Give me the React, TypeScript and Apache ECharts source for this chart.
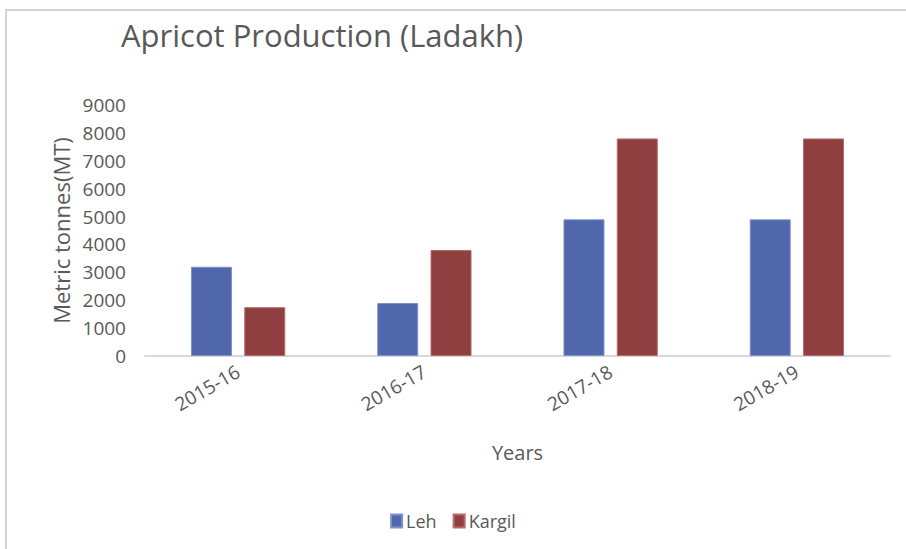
import React, { useEffect, useRef } from "react";
import * as echarts from "echarts";

const categories = ["2015-16", "2016-17", "2017-18", "2018-19"];
const lehValues = [3200, 1900, 4900, 4900];
const kargilValues = [1750, 3800, 7800, 7800];
const seriesNames = ["Leh", "Kargil"];
const titleText = "Apricot Production (Ladakh)";
const yAxisName = "Metric tonnes(MT)";
const xAxisName = "Years";

const FONT = "'Open Sans', 'Noto Sans', sans-serif";

export default function App() {
  const ref = useRef<HTMLDivElement>(null);
  useEffect(() => {
    document.body.style.margin = "0";
    const chart = echarts.init(ref.current!, null, { renderer: "svg" });
    chart.setOption({
      animation: false,
      backgroundColor: "#ffffff",
      textStyle: { fontFamily: FONT },
      graphic: [
        {
          type: "rect",
          shape: { x: 6, y: 10, width: 1200, height: 1000 },
          style: { fill: "none", stroke: "#d4d4d4", lineWidth: 2 },
          silent: true,
        },
      ],
      title: {
        text: titleText,
        left: 116,
        top: 14,
        textStyle: { fontFamily: FONT, fontSize: 31, fontWeight: "normal", color: "#595959" },
      },
      legend: {
        data: seriesNames,
        bottom: 14,
        left: "center",
        itemWidth: 11,
        itemHeight: 13,
        itemGap: 16,
        icon: "rect",
        textStyle: { fontFamily: FONT, fontSize: 18, color: "#595959", padding: [0, 0, 0, -1] },
      },
      grid: { left: 145, right: 16, top: 105, bottom: 193, containLabel: false },
      xAxis: {
        type: "category",
        data: categories,
        name: xAxisName,
        nameLocation: "middle",
        nameGap: 86,
        nameTextStyle: { fontFamily: FONT, fontSize: 20, color: "#595959" },
        axisLine: { show: true, lineStyle: { color: "#d9d9d9", width: 2 } },
        axisTick: { show: false },
        axisLabel: {
          rotate: 30,
          margin: 14,
          fontFamily: FONT,
          fontSize: 19,
          color: "#595959",
        },
      },
      yAxis: {
        type: "value",
        min: 0,
        max: 9000,
        interval: 1000,
        name: yAxisName,
        nameLocation: "middle",
        nameGap: 70,
        nameTextStyle: { fontFamily: FONT, fontSize: 22, color: "#595959" },
        axisLine: { show: false },
        axisTick: { show: false },
        splitLine: { show: false },
        axisLabel: {
          margin: 19,
          fontFamily: FONT,
          fontSize: 19,
          color: "#595959",
          formatter: (v: number) => String(v),
        },
      },
      series: [
        {
          name: seriesNames[0],
          type: "bar",
          data: lehValues,
          barWidth: 41,
          barGap: "30%",
          itemStyle: { color: "#5067ab", borderColor: "#7d92cc", borderWidth: 1 },
        },
        {
          name: seriesNames[1],
          type: "bar",
          data: kargilValues,
          barWidth: 41,
          barGap: "30%",
          itemStyle: { color: "#8f3f3f", borderColor: "#b86a6a", borderWidth: 1 },
        },
      ],
    });
    return () => chart.dispose();
  }, []);
  return <div ref={ref} style={{ width: 906, height: 549 }} />;
}
